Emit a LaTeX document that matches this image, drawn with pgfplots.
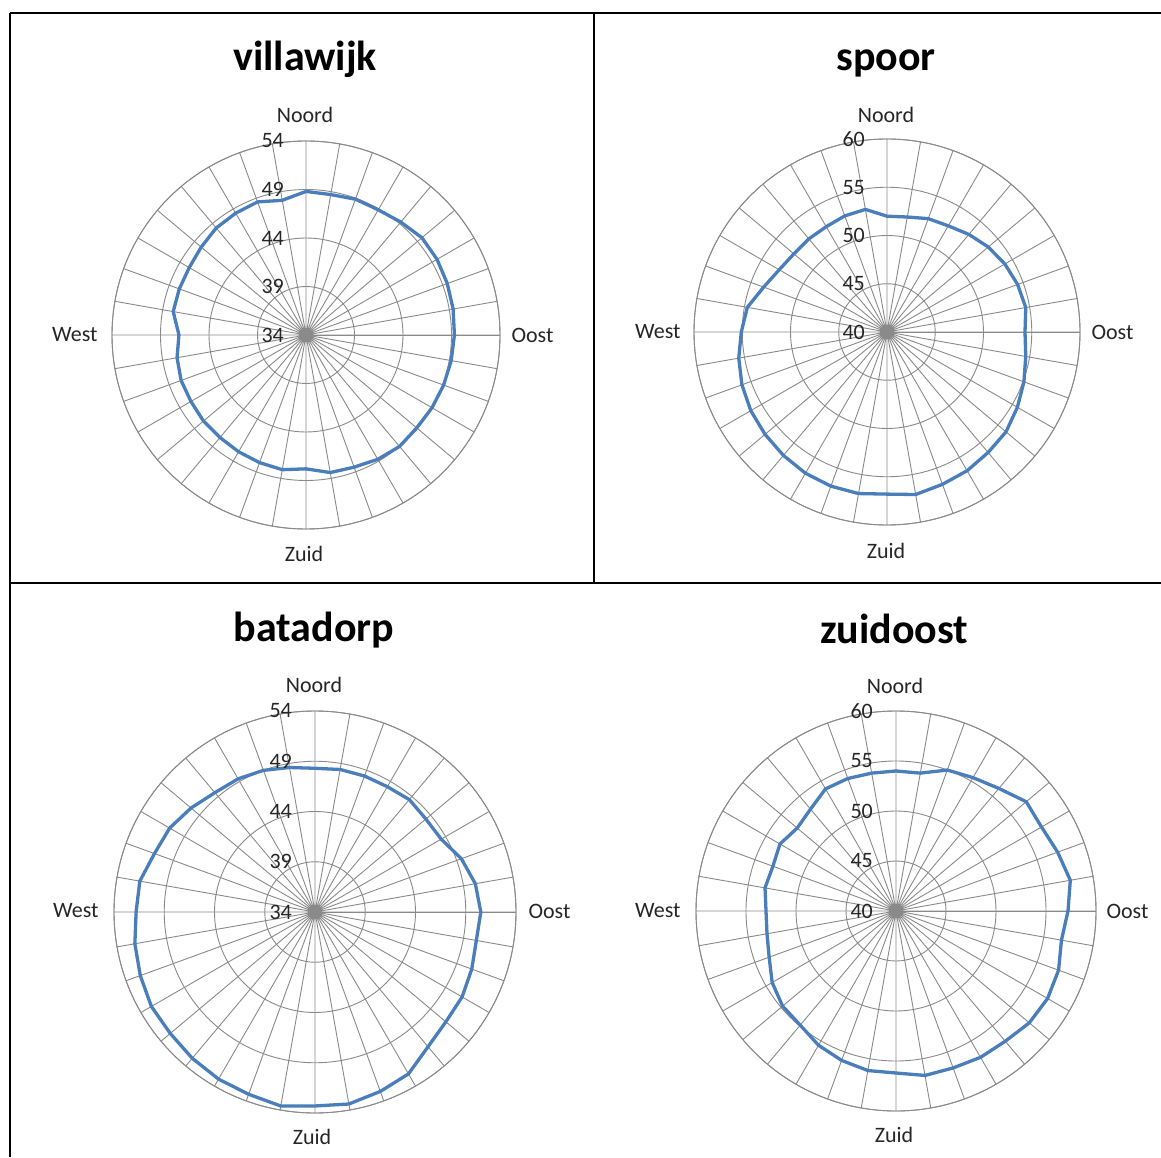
\documentclass[border=0pt]{standalone}
\usepackage{pgfplots}
\pgfplotsset{compat=1.18}
\usepackage{pgfplotstable}
\usepgfplotslibrary{polar}
\usepackage{fontspec}
\setmainfont{Carlito}
\definecolor{gridc}{HTML}{8A8A8A}
\definecolor{serie}{HTML}{4A7EBB}
\definecolor{txt}{HTML}{262626}

% i = category index (0 = Noord, clockwise, 10 degrees apart), v = value
\pgfplotstableread{
i v
0 48.8
1 48.7
2 48.9
3 48.9
4 49.2
5 49.6
6 49.6
7 49.5
8 49.4
9 49.3
10 49.2
11 49.1
12 49.0
13 48.9
14 49.0
15 48.8
16 48.5
17 48.4
18 47.8
19 48.1
20 48.0
21 47.9
22 47.8
23 47.8
24 47.7
25 47.7
26 47.5
27 47.1
28 47.9
29 47.9
30 47.9
31 48.1
32 48.4
33 48.5
34 48.6
35 48.1
36 48.8
}\villawijk

\pgfplotstableread{
i v
0 52.0
1 52.1
2 52.5
3 52.7
4 53.2
5 53.7
6 54.1
7 54.4
8 54.6
9 54.3
10 54.6
11 55.1
12 55.6
13 56.1
14 56.3
15 56.6
16 56.8
17 57.1
18 56.8
19 57.0
20 57.0
21 56.9
22 56.7
23 56.5
24 56.3
25 56.0
26 55.6
27 55.1
28 54.7
29 53.6
30 52.9
31 52.6
32 52.6
33 52.6
34 52.8
35 52.9
36 52.0
}\spoor

\pgfplotstableread{
i v
0 48.3
1 48.4
2 48.4
3 48.4
4 48.6
5 48.4
6 48.5
7 49.5
8 50.2
9 50.5
10 50.3
11 50.6
12 50.9
13 51.0
14 51.5
15 52.6
16 53.0
17 53.4
18 53.3
19 53.6
20 53.3
21 53.2
22 53.0
23 52.8
24 52.8
25 52.5
26 52.2
27 51.8
28 51.7
29 51.0
30 50.7
31 50.1
32 49.5
33 49.3
34 49.0
35 48.6
36 48.3
}\batadorp

\pgfplotstableread{
i v
0 54.0
1 54.0
2 55.0
3 55.4
4 56.0
5 57.0
6 56.8
7 57.2
8 57.7
9 57.2
10 56.8
11 57.3
12 57.5
13 57.4
14 57.0
15 56.9
16 56.7
17 56.7
18 56.2
19 56.2
20 55.9
21 55.5
22 54.9
23 54.8
24 54.3
25 53.5
26 53.1
27 53.0
28 53.3
29 53.1
30 53.4
31 52.9
32 53.3
33 54.1
34 54.1
35 54.0
36 54.0
}\zuidoost

\pgfplotsset{
  radar/.style={
    scale only axis,
    width=#1, height=#1,
    at={(0pt,0pt)},
    anchor=origin,
    xmin=0, xmax=360, ymin=0, ymax=20,
    xtick={0,10,...,350},
    ytick={5,10,15,20},
    xticklabel={\relax}, yticklabel={\relax},
    major tick length=0pt,
    grid=major,
    major grid style={draw=gridc, line width=0.9pt},
    axis line style={draw=gridc, line width=0.9pt},
    clip=false,
  },
  radarline/.style={draw=serie, line width=3.3pt, line join=round, no marks},
}

\newcommand{\lab}{\fontsize{22}{25}\selectfont\color{txt}}
\newcommand{\ttl}{\fontsize{42}{48}\selectfont\bfseries\color{black}}

\begin{document}
\begin{tikzpicture}[x=1pt,y=1pt]
\path[use as bounding box] (0,0) rectangle (1161,1157);

% table lines
\draw[line width=1.6pt] (10,1144) -- (1161,1144);
\draw[line width=1.6pt] (10,574) -- (1161,574);
\draw[line width=1.2pt] (10,1144) -- (10,0);
\draw[line width=1.2pt] (594,1144) -- (594,574);

% ---------- villawijk ----------
\begin{scope}[shift={(306pt,822pt)}]
\begin{polaraxis}[radar=388pt]
\addplot[radarline] table[x expr={90-10*\thisrow{i}}, y expr={\thisrow{v}-34}] {\villawijk};
\end{polaraxis}
\end{scope}
\node[anchor=base] at (305,1086) {\ttl villawijk};
\node at (305,1042) {\lab Noord};
\node at (304,603) {\lab Zuid};
\node[anchor=east] at (101,822) {\lab West};
\node[anchor=west] at (508,822) {\lab Oost};
\foreach \k/\t in {0/34,1/39,2/44,3/49,4/54}
  \node[anchor=east, inner sep=0pt] at (284,{822+\k*48.5}) {\lab \t};

% ---------- spoor ----------
\begin{scope}[shift={(887pt,825pt)}]
\begin{polaraxis}[radar=386pt]
\addplot[radarline] table[x expr={90-10*\thisrow{i}}, y expr={\thisrow{v}-40}] {\spoor};
\end{polaraxis}
\end{scope}
\node[anchor=base] at (886,1086) {\ttl spoor};
\node at (886,1042) {\lab Noord};
\node at (886,606) {\lab Zuid};
\node[anchor=east] at (684,825) {\lab West};
\node[anchor=west] at (1088,825) {\lab Oost};
\foreach \k/\t in {0/40,1/45,2/50,3/55,4/60}
  \node[anchor=east, inner sep=0pt] at (865,{825+\k*48.25}) {\lab \t};

% ---------- batadorp ----------
\begin{scope}[shift={(315pt,245pt)}]
\begin{polaraxis}[radar=402pt]
\addplot[radarline] table[x expr={90-10*\thisrow{i}}, y expr={\thisrow{v}-34}] {\batadorp};
\end{polaraxis}
\end{scope}
\node[anchor=base] at (314,515) {\ttl batadorp};
\node at (314,472) {\lab Noord};
\node at (312,20) {\lab Zuid};
\node[anchor=east] at (102,246) {\lab West};
\node[anchor=west] at (525,246) {\lab Oost};
\foreach \k/\t in {0/34,1/39,2/44,3/49,4/54}
  \node[anchor=east, inner sep=0pt] at (292,{245+\k*50.25}) {\lab \t};

% ---------- zuidoost ----------
\begin{scope}[shift={(896pt,246pt)}]
\begin{polaraxis}[radar=400pt]
\addplot[radarline] table[x expr={90-10*\thisrow{i}}, y expr={\thisrow{v}-40}] {\zuidoost};
\end{polaraxis}
\end{scope}
\node[anchor=base] at (894,513) {\ttl zuidoost};
\node at (895,471) {\lab Noord};
\node at (894,22) {\lab Zuid};
\node[anchor=east] at (684,246) {\lab West};
\node[anchor=west] at (1103,246) {\lab Oost};
\foreach \k/\t in {0/40,1/45,2/50,3/55,4/60}
  \node[anchor=east, inner sep=0pt] at (873,{246+\k*50}) {\lab \t};

\end{tikzpicture}
\end{document}
